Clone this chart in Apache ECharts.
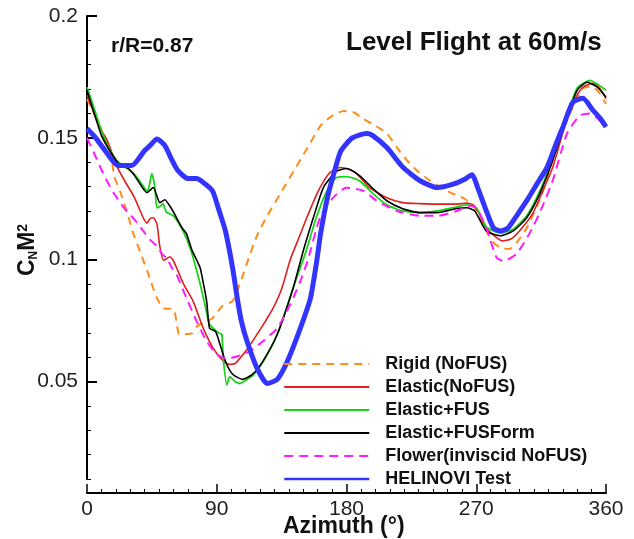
<!DOCTYPE html>
<html>
<head>
<meta charset="utf-8">
<script src="https://cdn.jsdelivr.net/npm/echarts@6/dist/echarts.min.js"></script>
<style>
  html, body { margin: 0; padding: 0; background: #fff; }
  #chart { width: 634px; height: 539px; }
</style>
</head>
<body>
<div id="chart"></div>
<script>
// azimuth (deg) and CnM2 values, one pair of arrays per curve
const rigidAz = [0, 8, 16, 19, 23, 28, 32, 37, 42, 48, 53, 60, 62, 64, 70, 73, 76, 82, 87, 94, 101, 106, 113, 118, 125, 135, 145, 155, 162, 170, 178, 185, 191, 200, 208, 215, 222, 230, 238, 246, 254, 262, 268, 272, 277, 282, 287, 293, 298, 305, 315, 323, 330, 335, 340, 344, 349, 354, 360];
const rigidCn = [0.166, 0.156, 0.145, 0.134, 0.128, 0.119, 0.111, 0.103, 0.095, 0.085, 0.080, 0.0797, 0.0748, 0.0694, 0.0695, 0.0698, 0.0725, 0.0745, 0.076, 0.081, 0.083, 0.090, 0.102, 0.110, 0.118, 0.128, 0.138, 0.148, 0.155, 0.159, 0.161, 0.1605, 0.158, 0.155, 0.1518, 0.146, 0.1407, 0.136, 0.1324, 0.1295, 0.127, 0.125, 0.122, 0.118, 0.1118, 0.107, 0.1048, 0.1044, 0.107, 0.113, 0.126, 0.1407, 0.153, 0.160, 0.166, 0.1703, 0.171, 0.1695, 0.164];

const elasticAz = [0, 5, 10, 14, 21, 26, 33, 39, 41.5, 44, 46, 48.5, 50.5, 53, 55, 57.5, 60, 67, 73.6, 80.6, 87.6, 94.6, 99, 103, 106, 112, 118, 124, 129, 135, 141, 147, 153, 159.5, 164, 168.5, 175.5, 181, 187, 196, 208, 219, 231, 243, 256.5, 263.5, 268, 272, 277, 282, 288, 294, 300, 309, 316, 323, 330, 335, 340, 344, 351, 356, 360];
const elasticCn = [0.1675, 0.160, 0.153, 0.149, 0.138, 0.1325, 0.1254, 0.1172, 0.115, 0.117, 0.1172, 0.1147, 0.1055, 0.0998, 0.1003, 0.1012, 0.0995, 0.090, 0.083, 0.0719, 0.0636, 0.0583, 0.057, 0.0575, 0.0595, 0.064, 0.0694, 0.075, 0.080, 0.088, 0.100, 0.109, 0.118, 0.127, 0.132, 0.1357, 0.1378, 0.1372, 0.1353, 0.1296, 0.1254, 0.1234, 0.123, 0.1228, 0.1228, 0.1232, 0.1225, 0.119, 0.113, 0.110, 0.1077, 0.1085, 0.1118, 0.1188, 0.128, 0.1378, 0.152, 0.1613, 0.1675, 0.1708, 0.1724, 0.170, 0.166];

const fusAz = [0, 5, 10, 15, 21, 28, 33, 38, 42, 45, 47, 48.5, 51, 52.7, 55, 60, 66.6, 72, 78, 82, 85, 91, 93.5, 94.5, 97, 99, 102.6, 106, 110, 115, 122, 132, 143, 152, 159, 166.5, 173, 180, 189, 198.5, 208, 219, 231, 243, 256.5, 263.5, 270.5, 277, 286.5, 295.6, 305, 314, 323, 333, 340, 349, 354, 360];
const fusCn = [0.1708, 0.162, 0.153, 0.146, 0.1405, 0.1375, 0.135, 0.131, 0.128, 0.1353, 0.130, 0.1213, 0.122, 0.123, 0.1195, 0.118, 0.1118, 0.104, 0.0912, 0.081, 0.0735, 0.070, 0.0694, 0.0595, 0.0485, 0.052, 0.050, 0.0492, 0.0505, 0.0525, 0.058, 0.0694, 0.0884, 0.1036, 0.1172, 0.1283, 0.1337, 0.1341, 0.1324, 0.127, 0.1225, 0.120, 0.1193, 0.120, 0.1217, 0.1225, 0.121, 0.1135, 0.111, 0.1125, 0.118, 0.128, 0.1415, 0.159, 0.1705, 0.1736, 0.172, 0.1695];

const formAz = [0, 5, 10, 16, 23, 28.5, 33, 38, 41.5, 46, 50.6, 54, 57.5, 60, 66, 69, 73, 76, 78.5, 80, 83, 85, 89, 91, 96, 101, 108, 115, 122, 132, 143, 150, 157, 164, 173, 180, 189, 198.5, 208, 219, 231, 243, 256.5, 263.5, 269, 277, 286.5, 295.6, 305, 314, 323, 333, 340, 347, 354, 360];
const formCn = [0.1695, 0.160, 0.151, 0.1445, 0.1386, 0.1375, 0.1345, 0.130, 0.1275, 0.1296, 0.1234, 0.1246, 0.122, 0.1195, 0.113, 0.1106, 0.1036, 0.100, 0.0966, 0.0925, 0.083, 0.0719, 0.0706, 0.0677, 0.0583, 0.053, 0.0509, 0.053, 0.0583, 0.0694, 0.0884, 0.1036, 0.1172, 0.1296, 0.1362, 0.1374, 0.1345, 0.1291, 0.1242, 0.1209, 0.1193, 0.1193, 0.121, 0.1213, 0.120, 0.1118, 0.1098, 0.1118, 0.1172, 0.127, 0.1407, 0.1584, 0.1695, 0.1728, 0.1708, 0.1667];

const flowerAz = [0, 5, 10, 15, 20, 26, 30, 35, 39, 44, 48.5, 52, 55.5, 59, 62, 69, 76, 83, 90, 97, 104, 113, 122, 132, 141, 148, 153, 161.6, 170.6, 180, 191.5, 201, 215, 231, 243, 256.5, 265.6, 270.5, 277, 284, 289, 298, 309, 316, 323, 333, 342, 349, 354, 360];
const flowerCn = [0.150, 0.1436, 0.137, 0.131, 0.126, 0.121, 0.1185, 0.115, 0.1118, 0.108, 0.1055, 0.1024, 0.1005, 0.0965, 0.0941, 0.0842, 0.0748, 0.0665, 0.0612, 0.0595, 0.0603, 0.0624, 0.0665, 0.0719, 0.0817, 0.0912, 0.0995, 0.1172, 0.1254, 0.1295, 0.1283, 0.1242, 0.120, 0.118, 0.118, 0.120, 0.1221, 0.121, 0.113, 0.101, 0.0995, 0.1024, 0.113, 0.122, 0.1324, 0.1518, 0.1592, 0.160, 0.158, 0.1545];

const testAz = [0, 6, 12.5, 21.5, 31, 40, 44, 48.5, 54, 58, 63, 70, 76, 80, 87, 91, 96, 101, 104, 107, 111, 118, 125, 132, 139, 148, 155, 159.5, 162, 167, 172, 176, 184, 194, 198, 208, 219, 231, 243, 254, 262, 267, 271, 277, 282, 287, 292, 298, 305, 312, 319, 325, 330, 337, 344, 351, 356, 360];
const testCn = [0.1538, 0.150, 0.1448, 0.1386, 0.1386, 0.1448, 0.147, 0.1495, 0.1469, 0.142, 0.1366, 0.1333, 0.1333, 0.132, 0.1283, 0.1213, 0.1118, 0.0966, 0.085, 0.075, 0.0665, 0.0554, 0.0492, 0.0509, 0.0583, 0.0719, 0.0842, 0.100, 0.1106, 0.126, 0.137, 0.1445, 0.150, 0.1518, 0.151, 0.146, 0.138, 0.1324, 0.1296, 0.131, 0.133, 0.1349, 0.1296, 0.120, 0.113, 0.1118, 0.113, 0.118, 0.1242, 0.131, 0.1378, 0.147, 0.1543, 0.1646, 0.1662, 0.1613, 0.158, 0.1545];

const seriesNames = ['Rigid (NoFUS)', 'Elastic(NoFUS)', 'Elastic+FUS', 'Elastic+FUSForm', 'Flower(inviscid NoFUS)', 'HELINOVI Test'];
const yTicks = [0.05, 0.1, 0.15, 0.2];

const FONT = '"Liberation Sans", Arial, sans-serif';

function pairs(az, cn) {
  return az.map((a, i) => [a, cn[i]]);
}

function line(name, az, cn, color, width, type) {
  return {
    name,
    type: 'line',
    data: pairs(az, cn),
    symbol: 'none',
    smooth: 0.2,
    lineStyle: { color, width, type },
    itemStyle: { color }
  };
}

const chart = echarts.init(document.getElementById('chart'));

const series = [
  line(seriesNames[0], rigidAz, rigidCn, '#ff8c1a', 2, [8, 6]),
  line(seriesNames[1], elasticAz, elasticCn, '#dd1f1f', 1.6, 'solid'),
  line(seriesNames[2], fusAz, fusCn, '#19d219', 1.8, 'solid'),
  line(seriesNames[3], formAz, formCn, '#000000', 1.6, 'solid'),
  line(seriesNames[4], flowerAz, flowerCn, '#ff1aff', 2, [9, 6]),
  line(seriesNames[5], testAz, testCn, '#3434ff', 5, 'solid')
];

const bold = (size) => ({ fontFamily: FONT, fontSize: size, fontWeight: 'bold', fill: '#111' });

chart.setOption({
  animation: false,
  backgroundColor: '#fff',
  textStyle: { fontFamily: FONT },
  title: [
    {
      text: 'Level Flight at 60m/s',
      left: 346, top: 30, padding: 0,
      textStyle: { fontFamily: FONT, fontSize: 26, fontWeight: 'bold', color: '#111' }
    },
    {
      text: 'r/R=0.87',
      left: 111, top: 36, padding: 0,
      textStyle: { fontFamily: FONT, fontSize: 21, fontWeight: 'bold', color: '#111' }
    }
  ],
  // axis titles as free text so they sit where the figure has them
  graphic: [
    {
      type: 'text',
      left: 283, top: 515,
      style: Object.assign({ text: 'Azimuth (°)' }, bold(23))
    },
    {
      type: 'text',
      x: 28, y: 250,
      rotation: Math.PI / 2,
      style: {
        text: '{c|C}{sub|N}{c|M}{sup|2}',
        align: 'center',
        verticalAlign: 'middle',
        rich: {
          c: bold(23),
          sub: Object.assign(bold(12), { lineHeight: 12, verticalAlign: 'bottom' }),
          sup: Object.assign(bold(14), { lineHeight: 12, verticalAlign: 'top' })
        }
      }
    }
  ],
  legend: {
    orient: 'vertical',
    left: 283, top: 355, padding: 0,
    itemWidth: 85, itemHeight: 15, itemGap: 5,
    itemStyle: { opacity: 0 },
    textStyle: { fontFamily: FONT, fontSize: 18, fontWeight: 'bold', color: '#111', lineHeight: 15, padding: [0, 0, 0, 11] },
    data: seriesNames.map((n, i) => i === 5 ? { name: n, lineStyle: { width: 2.5 } } : { name: n })
  },
  grid: { left: 87, right: 28, top: 16, bottom: 60, outerBoundsMode: 'none', containLabel: false },
  xAxis: {
    type: 'value',
    min: 0, max: 360, interval: 90,
    offset: 14,
    axisLine: { show: true, lineStyle: { color: '#000', width: 2 } },
    axisTick: { show: true, inside: true, length: 9, lineStyle: { color: '#000', width: 1.5 } },
    minorTick: { show: true, splitNumber: 9, length: 4, lineStyle: { color: '#000', width: 1 } },
    axisLabel: { fontFamily: FONT, fontSize: 21, color: '#222', margin: 6 },
    splitLine: { show: false }
  },
  yAxis: [
    {
      type: 'value',
      position: 'left',
      min: 0.01, max: 0.2, interval: 0.01,
      axisLine: { show: true, lineStyle: { color: '#000', width: 2 } },
      axisTick: { show: true, inside: true, length: 4, lineStyle: { color: '#000', width: 1 } },
      axisLabel: { show: false },
      splitLine: { show: false }
    },
    {
      type: 'value',
      position: 'left',
      min: 0.01, max: 0.2,
      axisLine: { show: false },
      axisTick: { show: true, inside: true, length: 10, customValues: yTicks, lineStyle: { color: '#000', width: 2 } },
      axisLabel: { fontFamily: FONT, fontSize: 21, color: '#222', margin: 9, customValues: yTicks },
      splitLine: { show: false }
    }
  ],
  series
});
</script>
</body>
</html>
